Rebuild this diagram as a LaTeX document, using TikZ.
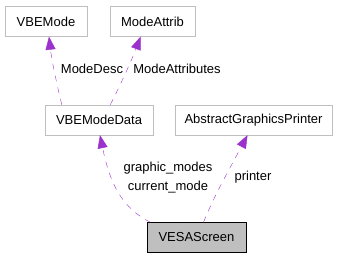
\documentclass[tikz,border=0pt]{standalone}
\usepackage{fontspec}
\setmainfont{Liberation Sans}
\usepackage{tikz}
\usetikzlibrary{arrows.meta,calc,positioning}

\definecolor{edgepurple}{HTML}{9A32CD}
\definecolor{boxgray}{HTML}{BFBFBF}

\begin{document}
\begin{tikzpicture}[x=1pt, y=-1pt,
        every node/.style={font=\fontsize{13}{15}\selectfont},
        classbox/.style={draw=boxgray, fill=white, minimum height=30pt, inner sep=0pt},
        mainbox/.style={draw=black, fill=boxgray, minimum height=30pt, inner sep=0pt},
        usage/.style={edgepurple, dash pattern=on 6pt off 6pt,
            -{Triangle[length=13pt, width=10pt, fill=edgepurple]}},
        lbl/.style={inner sep=0pt}]
            \useasboundingbox (0,0) rectangle (341,259);

            % Classes (top row, middle row, bottom)
            \node[classbox, minimum width=82pt] (vbemode) at (46,21.5) {VBEMode};
            \node[classbox, minimum width=85pt] (modeattrib) at (152.5,21.5) {ModeAttrib};
            \node[classbox, minimum width=108pt] (modedata) at (99,120) {VBEModeData};
            \node[classbox, minimum width=157pt] (printer) at (253.5,120) {AbstractGraphicsPrinter};
            \node[mainbox, minimum width=99pt] (screen) at (196.5,237.5) {VESAScreen};

            % Usage relations
            \draw[usage] ([xshift=17pt]modedata.north west)
                .. controls (57,85) and (52,62) .. ([xshift=3pt]vbemode.south);
            \draw[usage] ([xshift=-43pt]modedata.north east)
                .. controls (118,90) and (131,62) .. ([xshift=-12pt]modeattrib.south);
            \draw[usage] ([xshift=-46pt]screen.north)
                .. controls (122,208) and (110,184) .. ([xshift=1pt]modedata.south);
            \draw[usage] ([xshift=7pt]screen.north)
                .. controls (214,196) and (230,168) .. ([xshift=-6pt]printer.south);

            % Labels
            \node[lbl] (ldesc) at (92,69) {ModeDesc};
            \node[lbl] (lattr) at (177,69) {ModeAttributes};
            \node[lbl] (lgraph) at (168,168) {graphic\_modes};
            \node[lbl] (lcurr) at (168,187) {current\_mode};
            \node[lbl] (lprint) at (253,177) {printer};
        \end{tikzpicture}
\end{document}
